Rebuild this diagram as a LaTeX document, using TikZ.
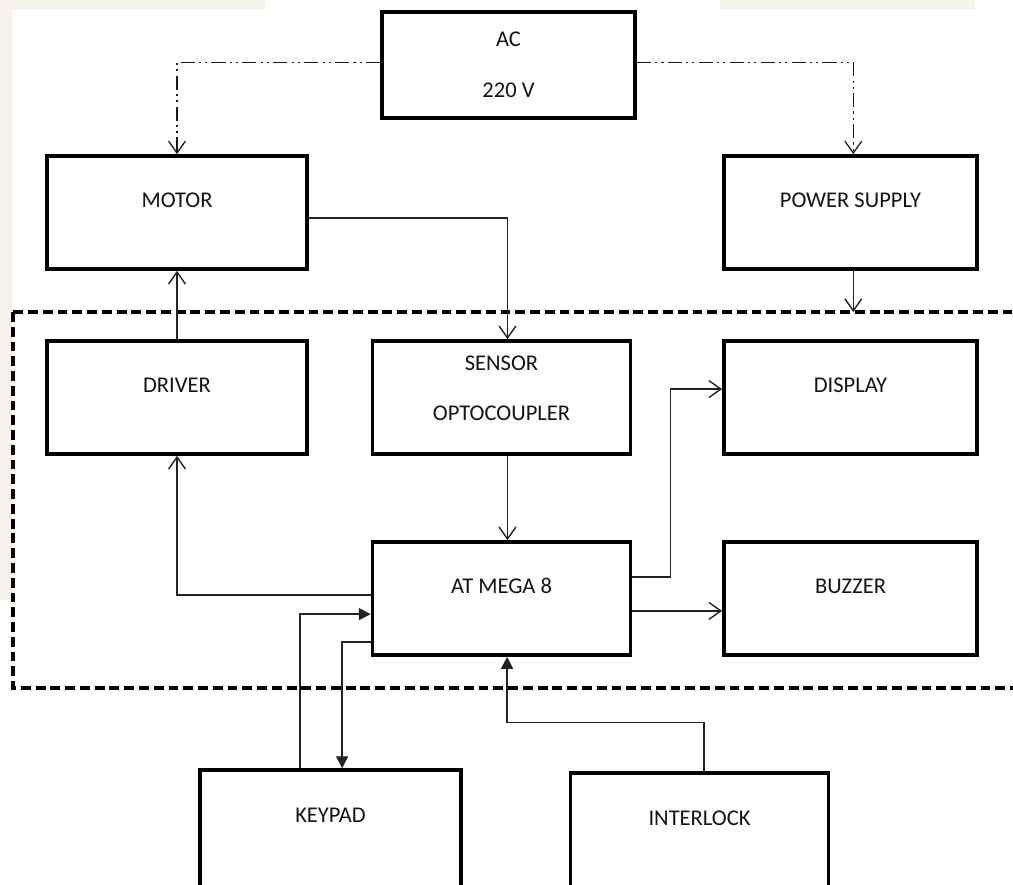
\documentclass[tikz,border=0pt]{standalone}
\usepackage{fontspec}
\setmainfont{Carlito}
\usepackage{tikz}
\usetikzlibrary{arrows.meta,positioning,calc}
\definecolor{wirecol}{RGB}{35,35,35}
\definecolor{mainscol}{RGB}{25,25,25}
\definecolor{paperbeige}{RGB}{246,243,236}
\tikzset{
  blk/.style={draw=black,line width=2.4pt,fill=white,minimum width=6.45cm,
              minimum height=2.83cm,inner sep=0pt,align=center,text=black!92,
              font=\fontsize{16}{18}\selectfont},
  blkup/.style={blk,text height=11pt,text depth=18pt},
  blkcut/.style={blk,minimum height=3.5cm,text height=2pt,text depth=26.8pt},
  wire/.style={draw=wirecol,line width=1pt},
  opn/.style={wire,-{Straight Barb[length=3mm,width=4.2mm]}},
  sld/.style={wire,-{Triangle[length=3mm,width=3mm]}},
  mains/.style={opn,draw=mainscol,line width=.9pt,
                dash pattern=on 10pt off 3pt on 1.5pt off 3pt on 1.5pt off 3pt},
  board/.style={draw=black,line width=2.4pt,dash pattern=on 7pt off 3.5pt},
}

\begin{document}
\begin{tikzpicture}[x=0.025cm,y=-0.025cm]
  \useasboundingbox (0,0) rectangle (1013,885);
  \clip (0,0) rectangle (1013,885);
  % faint paper tint
  \fill[paperbeige] (0,0) rectangle (265,10);
  \fill[paperbeige] (720,0) rectangle (975,10);
  \fill[paperbeige] (0,0) rectangle (12,600);
  % the controller board
  \coordinate (boardtl) at (13,312);
  \coordinate (boardbr) at (1030,688);
  \draw[board] (boardtl) rectangle (boardbr);
  % blocks
  \node[blk,minimum width=6.33cm,minimum height=2.65cm] (ac) at (508.5,65) {AC\\[18pt]220 V};
  \node[blkup,minimum width=6.5cm] (motor) at (177,212.5) {MOTOR};
  \node[blkup,minimum width=6.33cm] (power) at (850.5,212.5) {POWER SUPPLY};
  \node[blkup,minimum width=6.5cm] (driver) at (177,397.5) {DRIVER};
  \node[blk,text depth=13pt] (sensor) at (501.5,397.5) {SENSOR\\[18pt]OPTOCOUPLER};
  \node[blkup,minimum width=6.33cm] (display) at (850.5,397.5) {DISPLAY};
  \node[blkup] (atmega) at (501.5,598.5) {AT MEGA 8};
  \node[blkup,minimum width=6.33cm] (buzzer) at (850.5,598.5) {BUZZER};
  \node[blkcut,minimum width=6.52cm] (keypad) at (330.5,840) {KEYPAD};
  \node[blkcut] (interlock) at (699.5,843) {INTERLOCK};
  % mains feed
  \draw[mains] ([yshift=.07cm]ac.west) -| (motor.north);
  \draw[mains] ([yshift=.07cm]ac.east) -| ([xshift=.07cm]power.north);
  % signals
  \draw[opn] ([yshift=-.14cm]motor.east) -| ([xshift=.15cm]sensor.north);
  \draw[opn] ([xshift=.07cm]power.south) -- ([xshift=.07cm]power.south |- boardtl);
  \draw[opn] (driver.north) -- (motor.south);
  \draw[opn] ([xshift=.15cm]sensor.south) -- ([xshift=.15cm]atmega.north);
  \draw[opn] ([yshift=.09cm]atmega.west) -| (driver.south);
  \draw[opn] ([yshift=.54cm]atmega.east) -- ++(38,0) |- ([yshift=.21cm]display.west);
  \draw[opn] ([yshift=-.31cm]atmega.east) -- ([yshift=-.31cm]atmega.east -| buzzer.west);
  \draw[sld] ([xshift=-.76cm]keypad.north) |- ([yshift=-.39cm]atmega.west);
  \draw[sld] ([yshift=-1.09cm]atmega.west) -| ([xshift=.29cm]keypad.north);
  \draw[sld] ([xshift=.11cm]interlock.north) -- ++(0,-49) -| ([xshift=.14cm]atmega.south);
\end{tikzpicture}
\end{document}
